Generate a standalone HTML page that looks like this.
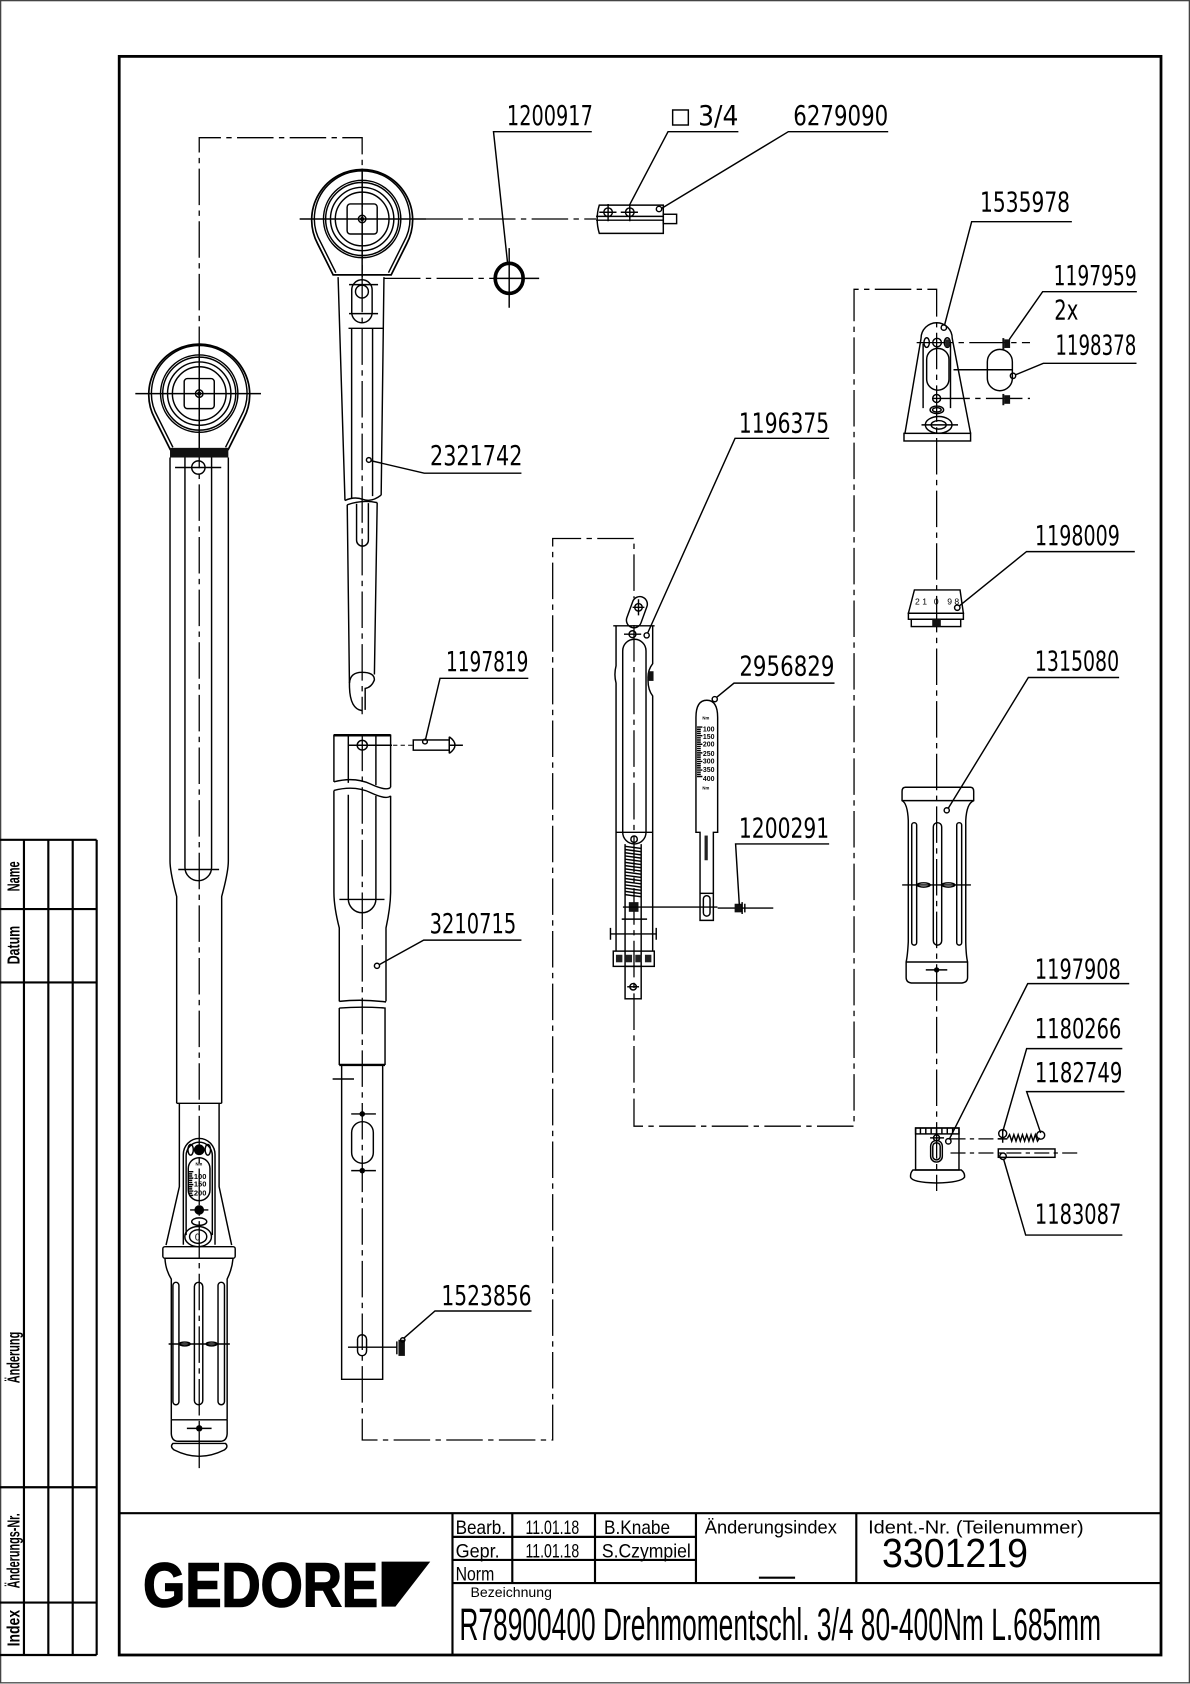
<!DOCTYPE html>
<html><head><meta charset="utf-8">
<style>
html,body{margin:0;padding:0;background:#fff}
svg{display:block}
.s{stroke:#000;fill:none;stroke-width:1.35}
.c{stroke:#000;fill:none;stroke-width:1.2;stroke-dasharray:34 5 5 5}
.cs{stroke:#000;fill:none;stroke-width:1.1;stroke-dasharray:14 4 4 4}
.l{font-family:"DejaVu Sans","Liberation Sans",sans-serif;font-size:25.5px;fill:#000}
.n{font-family:"Liberation Sans Narrow","Liberation Sans",sans-serif;fill:#000}
.k{fill:#000;stroke:none}
</style></head><body>
<svg width="1190" height="1684" viewBox="0 0 1108 1568" preserveAspectRatio="none" xmlns="http://www.w3.org/2000/svg">
<defs>
<g id="hd" class="s">
<path d="M-27,52 L-41.5,23 A47 47 0 1 1 41.5,23 L27,52 Z" stroke-width="1.6"/>
<path d="M-24.5,50 L-38.5,22 A44.5 44.5 0 1 1 38.5,22 L24.5,50"/>
<circle r="36"/><circle r="34"/><circle r="29.5"/><circle r="25"/>
<rect x="-14" y="-14" width="28" height="28" rx="3"/>
<circle r="3.5"/><circle r="1.3" fill="#000"/>
</g>
</defs>

<!-- outer border -->
<rect x="0.6" y="0.6" width="1106.8" height="1566.3" fill="none" stroke="#444" stroke-width="1.2"/>
<!-- frame -->
<rect x="111" y="52.5" width="970" height="1488.5" fill="none" stroke="#000" stroke-width="2.6"/>

<!-- title block -->
<path d="M111,1409H1081 M421.3,1409V1541 M421.3,1474H1081 M477,1409V1474 M554,1409V1474 M648,1409V1474 M797.3,1409V1474 M421.3,1431H648 M421.3,1452.5H648" stroke="#000" stroke-width="2" fill="none"/>
<path d="M706.6,1469H740.3" stroke="#000" stroke-width="2"/>
<text class="n" x="424.2" y="1428.5" font-size="18" textLength="47" lengthAdjust="spacingAndGlyphs">Bearb.</text>
<text class="n" x="489.3" y="1428.5" font-size="18" textLength="50" lengthAdjust="spacingAndGlyphs">11.01.18</text>
<text class="n" x="562.4" y="1428.5" font-size="18" textLength="61.5" lengthAdjust="spacingAndGlyphs">B.Knabe</text>
<text class="n" x="424.2" y="1450" font-size="18" textLength="41" lengthAdjust="spacingAndGlyphs">Gepr.</text>
<text class="n" x="489.3" y="1450" font-size="18" textLength="50" lengthAdjust="spacingAndGlyphs">11.01.18</text>
<text class="n" x="560.4" y="1450" font-size="18" textLength="82.8" lengthAdjust="spacingAndGlyphs">S.Czympiel</text>
<text class="n" x="424.2" y="1471.5" font-size="18" textLength="36" lengthAdjust="spacingAndGlyphs">Norm</text>
<text class="n" x="656.2" y="1427.8" font-size="17" textLength="123" lengthAdjust="spacingAndGlyphs">Änderungsindex</text>
<text class="n" x="808.3" y="1427.8" font-size="17" textLength="200.7" lengthAdjust="spacingAndGlyphs">Ident.-Nr.  (Teilenummer)</text>
<text class="n" x="821.2" y="1459" font-size="38" textLength="136" lengthAdjust="spacingAndGlyphs">3301219</text>
<text class="n" x="438.1" y="1487" font-size="13" textLength="75.8" lengthAdjust="spacingAndGlyphs">Bezeichnung</text>
<text class="n" x="427.7" y="1527" font-size="42" textLength="597.5" lengthAdjust="spacingAndGlyphs">R78900400 Drehmomentschl. 3/4 80-400Nm L.685mm</text>
<!-- GEDORE logo -->
<text class="n" x="133.3" y="1496" font-size="58" font-weight="bold" stroke="#000" stroke-width="1.5" textLength="218.7" lengthAdjust="spacingAndGlyphs">GEDORE</text>
<polygon points="355.3,1454 400.6,1454 368.2,1496 355.3,1496" fill="#000"/>

<!-- left revision table -->
<path d="M0,782H90 M0,846.4H90 M0,914.8H90 M0,1384.8H90 M0,1492.2H90 M0,1541H90 M22.3,782V1541 M45,782V1541 M67.7,782V1541 M90,782V1541" stroke="#000" stroke-width="2" fill="none"/>
<g class="n" font-size="16" font-weight="bold">
<text transform="translate(18,830) rotate(-90)" textLength="28" lengthAdjust="spacingAndGlyphs">Name</text>
<text transform="translate(18,898) rotate(-90)" textLength="36" lengthAdjust="spacingAndGlyphs">Datum</text>
<text transform="translate(18,1288) rotate(-90)" textLength="48" lengthAdjust="spacingAndGlyphs">Änderung</text>
<text transform="translate(18,1479) rotate(-90)" textLength="70" lengthAdjust="spacingAndGlyphs">Änderungs-Nr.</text>
<text transform="translate(18,1533) rotate(-90)" textLength="34" lengthAdjust="spacingAndGlyphs">Index</text>
</g>

<!-- ================= connectors ================= -->
<path class="c" d="M185.5,1367 V128.2 H337.2 V665"/>
<path class="c" d="M337.3,684 V1340.8 H514.6 V501.4 H590.3 V557"/>
<path class="c" d="M590.3,582 V1048.6 H795.2 V269.4 H872.1 V1109"/>
<path class="c" d="M397,203.9 H555"/>
<path class="c" d="M357.5,259.2 H459"/>
<path class="c" d="M853.5,319 H959"/>
<path class="c" d="M869,371 H959"/>
<path class="cs" d="M885,1060.4 H936"/>
<path class="cs" d="M885,1073.6 H1003.5"/>

<!-- ================= upper ratchet (2321742) ================= -->
<use href="#hd" transform="translate(337.2,203.9)"/>
<path class="s" d="M279,203.9H397 M337.2,157V258"/>
<path class="s" d="M314.8,258 L321.2,466 M357.5,258 L354.9,461"/>
<path class="s" d="M321.2,466 Q330,462 338,465 T354.9,461"/>
<path class="s" d="M327.4,306 V464 M346.9,306 V462"/>
<path class="s" d="M327.5,270 A9.5 9.5 0 0 1 346.5,270 V291 A9.5 9.5 0 0 1 327.5,291 Z"/>
<circle cx="337" cy="271.5" r="6" class="s"/>
<path class="s" d="M325,265H352 M325,292H352 M324.5,305.7H356.6"/>
<circle cx="343.4" cy="428.3" r="2.2" class="s"/>
<path class="s" d="M345.5,429 L395,440.6 H485.5"/>
<text class="l" x="400.4" y="433" textLength="86" lengthAdjust="spacingAndGlyphs">2321742</text>
<!-- lower rod -->
<path class="s" d="M323.3,470 Q337,465 351.2,468"/>
<path class="s" d="M323.3,470 L325.4,640 Q326,660 337,661.7 M351.2,468 L348.6,628"/>
<path class="s" d="M332,469 V503 A5.5 5.5 0 0 0 343,503 V468.5"/>
<path class="s" d="M325.4,636 Q326,626 337,626 Q348.6,626 348.6,633 Q346,640 340,641 V661"/>

<!-- O-ring 1200917 -->
<ellipse cx="474.1" cy="259.2" rx="13" ry="14" fill="none" stroke="#000" stroke-width="3.4"/>
<path class="s" d="M459,259.2H502 M474.1,231V286.5"/>
<path class="s" d="M472.5,244 L459.5,122.6 H551"/>
<text class="l" x="472" y="116.4" textLength="80" lengthAdjust="spacingAndGlyphs">1200917</text>

<!-- square drive 6279090 -->
<path class="s" d="M558,191 H617.6 V217.3 H558 Q554,204 558,191 Z" stroke-width="1.5"/>
<path class="s" d="M555,201.5H617.6 M555,205H617.6"/>
<rect x="617.6" y="199.5" width="12.4" height="8.7" class="s"/>
<circle cx="566.2" cy="197.6" r="4" class="s"/><path class="s" d="M558,197.6H574 M566.2,190V206"/>
<circle cx="586.4" cy="197.6" r="4" class="s"/><path class="s" d="M578,197.6H594 M586.4,190V206"/>
<circle cx="613.6" cy="194.6" r="2.5" class="s"/>
<path class="s" d="M586.6,190 L622,122.6 H687.5"/>
<rect x="626.3" y="102.4" width="14.6" height="14" class="s" stroke-width="1.6"/>
<text class="l" x="650" y="116.4" textLength="37.5" lengthAdjust="spacingAndGlyphs">3/4</text>
<path class="s" d="M616,194 L734,122.6 H827"/>
<text class="l" x="738.6" y="116.4" textLength="88.4" lengthAdjust="spacingAndGlyphs">6279090</text>

<!-- ================= left assembled wrench ================= -->
<use href="#hd" transform="translate(185.5,366.5)"/>
<path class="s" d="M126,366.5H243 M185.5,320V419"/>
<rect x="158.3" y="417" width="54.3" height="9" fill="#111"/>
<circle cx="184.7" cy="435.3" r="6.2" class="s"/>
<path class="s" d="M163,435.3H206"/>
<path class="s" d="M158.3,426 V801.7 Q158.3,812 164.5,834.8 V1027.3 M212.6,426 V801.7 Q212.6,812 206.4,834.8 V1027.3 M164.5,1027.3H206.4" stroke-width="1.45"/>
<path class="s" d="M172.2,426 V807.6 A12.4 12.4 0 0 0 197,807.6 V426"/>
<path class="s" d="M166,809.6H204"/>
<path class="s" d="M167,1027.3 V1104.9 L154.6,1159.3 M204,1027.3 V1104.9 L215.7,1159.3"/>
<path class="s" d="M170.7,1159 V1075 A14.75 15 0 0 1 200.2,1075 V1159"/>
<path class="s" d="M173.3,1150 V1076 A12.2 12.5 0 0 1 197.7,1076 V1150"/>
<circle cx="185.5" cy="1070.6" r="5" class="k"/>
<ellipse cx="177.5" cy="1070.6" rx="2.5" ry="5" class="s"/>
<ellipse cx="193.5" cy="1070.6" rx="2.5" ry="5" class="s"/>
<path class="s" d="M175.3,1088 A10.1 10 0 0 1 195.5,1088 V1108 A10.1 10 0 0 1 175.3,1108 Z"/>
<path class="s" stroke-width="0.8" d="M176,1091H180 M176,1093H179 M176,1095H179 M176,1097H180 M176,1099H179 M176,1101H179 M176,1103H180 M176,1105H179 M176,1107H179 M176,1109H180 M176,1111H179 M176,1113H180"/>
<g font-family="Liberation Sans,sans-serif" font-size="7" font-weight="bold" fill="#000">
<text x="180.5" y="1098">100</text><text x="180.5" y="1105">150</text><text x="180.5" y="1113">200</text>
<text x="182" y="1085" font-size="4">Nm</text>
</g>
<circle cx="185.5" cy="1126.6" r="4.5" class="k"/>
<path class="s" d="M177,1126.6H194"/>
<ellipse cx="185.5" cy="1137.5" rx="7" ry="3.5" class="s"/>
<ellipse cx="184.5" cy="1151.4" rx="12.4" ry="9.4" class="s"/>
<ellipse cx="184.5" cy="1151.4" rx="8" ry="6.3" class="s"/>
<text x="181.5" y="1155" font-family="Liberation Sans,sans-serif" font-size="9" fill="#000">0</text>
<rect x="151.6" y="1160.8" width="67.4" height="10.8" rx="2" class="s" stroke-width="1.45"/>
<path class="s" d="M153.6,1171.6 Q154,1182 159.5,1191 V1322 M217,1171.6 Q216,1182 211.5,1191 V1322"/>
<rect x="161" y="1194" width="5.6" height="114" rx="2.8" class="s"/>
<rect x="181" y="1194" width="7.8" height="114" rx="3.9" class="s"/>
<rect x="203" y="1194" width="6" height="114" rx="3" class="s"/>
<path class="s" d="M157,1251.4H214"/>
<ellipse cx="172" cy="1251.4" rx="5" ry="1.8" class="s"/>
<ellipse cx="197" cy="1251.4" rx="5" ry="1.8" class="s"/>
<path class="s" d="M159.5,1322 H211.5 M159.5,1322 V1335 Q160,1342 166,1342 H205 Q211,1342 211.5,1335 V1322"/>
<path class="s" d="M161,1344 H210 Q213,1347 209,1350 Q197,1356 185.5,1356 Q174,1356 162,1350 Q158,1347 161,1344 Z"/>
<circle cx="185.5" cy="1330" r="3" class="k"/>
<path class="s" d="M174,1330H197"/>

<!-- ================= 3210715 ================= -->
<path class="s" d="M310.9,728 V684.6 H363.7 V733" stroke-width="1.45"/>
<path d="M310.9,684.6 H363.7" stroke="#000" stroke-width="2.4"/>
<path class="s" d="M310.9,728 Q330,723 345,730 T363.7,733"/>
<path class="s" d="M324.3,684.6 V729 M350,684.6 V731"/>
<ellipse cx="337.3" cy="693.9" rx="4.7" ry="4.5" class="s"/>
<path class="s" d="M325,693.9H365"/>
<path class="s" d="M310.9,736 Q330,731 345,738 T363.7,741"/>
<path class="s" d="M310.9,736 V831 Q311,845 315.9,864 V932.4 M363.7,741 V831 Q363.5,845 359.4,864 V932.4 M315.9,932.4 Q337,930 359.4,933"/>
<path class="s" d="M324.3,740 V837 A12.85 12.85 0 0 0 350,837 V741"/>
<path class="s" d="M316,837.5H358"/>
<circle cx="351" cy="899.3" r="2.4" class="s"/>
<path class="s" d="M353,898.3 L394.5,875.4 H485.5"/>
<text class="l" x="400" y="868.7" textLength="80.7" lengthAdjust="spacingAndGlyphs">3210715</text>
<path class="s" d="M315.9,938.6 Q337,937 358.5,938.6 V991.6 M315.9,938.6 V991.6"/>
<path d="M315.9,991.6H358.5" stroke="#000" stroke-width="2.2"/>
<path class="s" d="M318.1,991.6 V1284.3 H356.3 V991.6"/>
<path class="s" d="M309.7,1004.7H329.6"/>
<path class="s" d="M327.4,1054.5 A10.1 10.1 0 0 1 347.6,1054.5 V1073.1 A10.1 10.1 0 0 1 327.4,1073.1 Z"/>
<circle cx="337.3" cy="1037.2" r="2.6" class="k"/><path class="s" d="M327,1037.2H350"/>
<circle cx="337.3" cy="1090" r="2.6" class="k"/><path class="s" d="M327,1090H350"/>
<rect x="332.9" y="1242.8" width="8.4" height="19.5" rx="4.2" class="s"/>
<path class="s" d="M324,1254.4H370"/>
<rect x="371" y="1247.5" width="6" height="15" fill="#111"/>
<path class="s" d="M369.5,1249V1261"/>
<circle cx="375" cy="1247.6" r="2" class="s"/>
<path class="s" d="M376,1246 L405,1220.7 H494.9"/>
<text class="l" x="411" y="1215" textLength="83.9" lengthAdjust="spacingAndGlyphs">1523856</text>

<!-- pin 1197819 -->
<rect x="384.8" y="689" width="33.5" height="9.5" class="s"/>
<path class="s" d="M418.3,686 V701.5 M418.3,686 Q429,693.8 418.3,701.5 M418.3,693.9H431"/>
<path d="M366,693.9H385" stroke="#000" stroke-width="1" stroke-dasharray="4 3"/>
<circle cx="395.7" cy="690.5" r="2.2" class="s"/>
<path class="s" d="M396.2,688.5 L409.7,631.6 H491.9"/>
<text class="l" x="415.3" y="625" textLength="76.7" lengthAdjust="spacingAndGlyphs">1197819</text>

<!-- ================= mechanism 1196375 ================= -->
<rect x="586" y="555" width="14" height="30" rx="7" transform="rotate(20 593 570)" class="s"/>
<circle cx="594.5" cy="565.5" r="3.5" class="s"/>
<path class="s" d="M589,565.5H600 M594.5,558V573"/>
<path class="s" d="M571,582.7 H609.5"/>
<path class="s" d="M573.6,582.7 V620 Q571.5,628 573.6,636 V885.6"/>
<path class="s" d="M607.7,582.7 V618 Q603,624 603.4,632 Q603,642 607.7,648 V885.6"/>
<rect x="603.5" y="625" width="5" height="9" fill="#111"/>
<circle cx="588.9" cy="590.5" r="3.2" class="s"/>
<path class="s" d="M581,590.5H597"/>
<circle cx="602.1" cy="591.6" r="2.4" class="s"/>
<path class="s" d="M603,589.5 L684.4,408.1 H772"/>
<text class="l" x="688" y="402.7" textLength="84" lengthAdjust="spacingAndGlyphs">1196375</text>
<rect x="579.8" y="595.2" width="21.7" height="190.6" rx="10.85" class="s"/>
<path class="s" d="M573.6,775H607.7"/>
<circle cx="590.4" cy="781.4" r="3" class="s"/>
<path class="s" d="M582,786V900 M597,786V900"/>
<path class="s" stroke-width="1" d="M582,788L597,790 M582,791L597,793 M582,794L597,796 M582,797L597,799 M582,800L597,802 M582,803L597,805 M582,806L597,808 M582,809L597,811 M582,812L597,814 M582,815L597,817 M582,818L597,820 M582,821L597,823 M582,824L597,826 M582,827L597,829 M582,830L597,832 M582,833L597,835"/>
<rect x="585.5" y="840" width="9" height="9" fill="#111"/>
<path class="s" d="M580,844.6H668"/>
<path class="s" d="M578.9,855.8H602.5 M568.4,869.6H611 M568.4,864V875 M611,864V875"/>
<rect x="571" y="885.6" width="38.2" height="14.2" class="s"/>
<rect x="573.5" y="889" width="6" height="7" fill="#222"/>
<rect x="582.5" y="889" width="6" height="7" fill="#222"/>
<rect x="591.5" y="889" width="6" height="7" fill="#222"/>
<rect x="600.5" y="889" width="6" height="7" fill="#222"/>
<rect x="582" y="899.8" width="15" height="30.2" class="s"/>
<circle cx="589.5" cy="918.8" r="3" class="s"/>
<path class="s" d="M584,918.8H595"/>

<!-- scale strip 2956829 -->
<path class="s" d="M648,668 Q648,652 658.1,652 Q668.2,652 668.2,668 V775 H664.2 V857 H651.8 V775 H648 Z" stroke-width="1.45"/>
<path class="s" d="M651.8,831.8H664.2"/>
<rect x="654.9" y="834" width="6.2" height="19" rx="3.1" class="s"/>
<path class="s" stroke-width="0.8" d="M649,677H654 M649,679H652.5 M649,681H652.5 M649,683H652.5 M649,685H654 M649,687H652.5 M649,689H652.5 M649,691H652.5 M649,693H654 M649,695H652.5 M649,697H652.5 M649,699H652.5 M649,701H654 M649,703H652.5 M649,705H652.5 M649,707H652.5 M649,709H654 M649,711H652.5 M649,713H652.5 M649,715H652.5 M649,717H654 M649,719H652.5 M649,721H652.5 M649,723H654"/>
<g font-family="Liberation Sans,sans-serif" font-size="6.5" font-weight="bold" fill="#000">
<text x="654.5" y="681">100</text><text x="654.5" y="688">150</text><text x="654.5" y="695">200</text><text x="654.5" y="704">250</text><text x="654.5" y="711">300</text><text x="654.5" y="719">350</text><text x="654.5" y="727">400</text>
<text x="654" y="670" font-size="4">Nm</text><text x="654" y="735" font-size="4">Nm</text>
</g>
<rect x="656" y="778" width="3" height="23" fill="#222"/>
<circle cx="665.5" cy="651" r="2.4" class="s"/>
<path class="s" d="M667,649.5 L683.4,636.1 H777"/>
<text class="l" x="688.4" y="629" textLength="88.6" lengthAdjust="spacingAndGlyphs">2956829</text>

<!-- screw 1200291 -->
<path class="s" d="M668.2,845.5H720"/>
<rect x="684" y="841.5" width="7" height="8" fill="#111"/>
<path class="s" d="M691,840V851 M693.5,841.5V849.5"/>
<path class="s" d="M688.4,842.8 L684.9,785.8 H772"/>
<text class="l" x="688" y="780" textLength="84" lengthAdjust="spacingAndGlyphs">1200291</text>

<!-- ================= right column ================= -->
<!-- bracket 1535978 -->
<path class="s" d="M857.6,315 A14.5 14.5 0 0 1 886.6,315 L903.7,403.5 M857.6,315 L842.6,403.5" stroke-width="1.45"/>
<rect x="841.7" y="403.5" width="62" height="7.1" class="s"/>
<path class="s" d="M859.5,320 V380 M885,320 V380"/>
<ellipse cx="862.8" cy="319" rx="2.5" ry="4.5" class="s"/>
<circle cx="872.5" cy="319" r="4" class="s"/>
<ellipse cx="882" cy="319" rx="2.8" ry="4.5" class="s"/>
<rect x="880" y="316" width="4" height="7" fill="#222"/>
<rect x="862.8" y="324.4" width="20.8" height="38.9" rx="10.4" class="s"/>
<circle cx="872.1" cy="371" r="3.7" class="s"/>
<ellipse cx="872.3" cy="381.6" rx="6.3" ry="3.5" class="s"/>
<ellipse cx="872.3" cy="381.6" rx="4" ry="2" class="s"/>
<ellipse cx="874" cy="395.6" rx="12.4" ry="7.8" class="s"/>
<ellipse cx="874" cy="395.6" rx="7" ry="4" class="s"/>
<path class="s" d="M858,395.6H892"/>
<circle cx="878.8" cy="305" r="2.5" class="s"/>
<path class="s" d="M879.5,302.6 L904.7,206.4 H998"/>
<text class="l" x="912.5" y="197.1" textLength="83.8" lengthAdjust="spacingAndGlyphs">1535978</text>
<!-- screws 1197959 -->
<rect x="935" y="316" width="5.5" height="8" fill="#111"/>
<rect x="933.3" y="314.8" width="1.8" height="10.5" fill="#111"/>
<rect x="935" y="368" width="5.5" height="8" fill="#111"/>
<rect x="933.3" y="366.8" width="1.8" height="10.5" fill="#111"/>
<path class="s" d="M939.7,316.1 L970.8,271.6 H1058.5"/>
<text class="l" x="981" y="265.4" textLength="77.5" lengthAdjust="spacingAndGlyphs">1197959</text>
<text class="l" x="981.6" y="297.3" textLength="22.4" lengthAdjust="spacingAndGlyphs">2x</text>
<!-- 1198378 -->
<rect x="919.3" y="325.3" width="23.3" height="38.5" rx="11.65" class="s" stroke-width="1.5"/>
<path class="s" d="M887.8,344.3H943"/>
<circle cx="943.2" cy="349.9" r="2.5" class="s"/>
<path class="s" d="M945.5,349 L971.4,338.3 H1058.2"/>
<text class="l" x="982.6" y="329.9" textLength="75.4" lengthAdjust="spacingAndGlyphs">1198378</text>
<!-- 1198009 dial -->
<path class="s" d="M851.4,549.3 H893.9 L897,571 H845.8 Z"/>
<rect x="845.8" y="571" width="51.2" height="5.6" class="s"/>
<rect x="848.5" y="576.6" width="46" height="6.8" class="s"/>
<rect x="868" y="576.6" width="8" height="6.8" fill="#111"/>
<g font-family="Liberation Sans,sans-serif" font-size="8" fill="#000">
<text x="852" y="563">2 1</text><text x="869.5" y="563">0</text><text x="882" y="563">9 8</text>
</g>
<circle cx="891.3" cy="565.8" r="2.5" class="s"/>
<path class="s" d="M893.5,564 L955.8,513.6 H1056.6"/>
<text class="l" x="963.7" y="507.4" textLength="79" lengthAdjust="spacingAndGlyphs">1198009</text>
<!-- 1315080 grip -->
<path class="s" stroke-width="1.45" d="M843,733 H903.6 Q906.6,733 906.6,737 V745.5 Q900,748 899.2,764 V877 Q899.5,890 900.9,895.7 V910 Q900.9,915.3 894,915.3 H850 Q843.7,915.3 843.7,910 V895.7 Q845,890 845.7,877 V764 Q845,748 839.9,745.5 V737 Q839.9,733 843,733 Z"/>
<path class="s" d="M839.9,745.5H906.6 M843.7,895.7H900.9"/>
<rect x="848.9" y="766" width="4.6" height="114" rx="2.3" class="s"/>
<rect x="869" y="766" width="7.8" height="114" rx="3.9" class="s"/>
<rect x="890.8" y="766" width="4.6" height="114" rx="2.3" class="s"/>
<path class="s" d="M840,824H904"/>
<ellipse cx="860" cy="824" rx="6" ry="2" class="s"/>
<ellipse cx="883" cy="824" rx="6" ry="2" class="s"/>
<circle cx="872.1" cy="903.1" r="2.5" class="k"/>
<path class="s" d="M862,903.1H882"/>
<circle cx="881.5" cy="754.5" r="2.4" class="s"/>
<path class="s" d="M883,752.5 L957.5,630.8 H1042"/>
<text class="l" x="963.6" y="624.4" textLength="78.4" lengthAdjust="spacingAndGlyphs">1315080</text>
<!-- 1197908 cylinder -->
<rect x="852.5" y="1050.3" width="40.4" height="39.1" class="s" stroke-width="1.45"/>
<rect x="852.5" y="1050.3" width="40.4" height="5.5" class="s"/>
<path class="s" stroke-width="0.8" d="M857,1050.3V1055.8 M862,1050.3V1055.8 M867,1050.3V1055.8 M872,1050.3V1055.8 M877,1050.3V1055.8 M882,1050.3V1055.8 M887,1050.3V1055.8"/>
<rect x="866.5" y="1061.9" width="10.9" height="20.1" rx="5.45" class="s"/>
<rect x="868.5" y="1064" width="6.9" height="16" rx="3.45" class="s"/>
<circle cx="872" cy="1059.5" r="2.8" class="s"/>
<path class="s" d="M866,1059.5H879"/>
<path class="s" d="M850,1089.4 H895 Q898.5,1092 898.1,1096 Q895,1101 872,1101.5 Q849,1101 847.8,1096 Q847.5,1092 850,1089.4 Z"/>
<circle cx="883" cy="1062.7" r="2.5" class="s"/>
<path class="s" d="M884,1060.5 L956.9,915.9 H1051.4"/>
<text class="l" x="963.6" y="911.3" textLength="80" lengthAdjust="spacingAndGlyphs">1197908</text>
<!-- ball + spring -->
<circle cx="933.6" cy="1055.5" r="3.7" class="s"/>
<path class="s" d="M929,1060.4H938 M933.6,1052V1064"/>
<path class="s" d="M938,1060 l2,-3.5 l2,6 l2,-6 l2,6 l2,-6 l2,6 l2,-6 l2,6 l2,-6 l2,6 l2,-6 l2,6 l2,-6 l2,6 l2,-3"/>
<circle cx="969" cy="1057" r="3.7" class="s"/>
<path class="s" d="M933.6,1053.8 L955.9,976.4 H1045"/>
<text class="l" x="963.6" y="966.5" textLength="80.5" lengthAdjust="spacingAndGlyphs">1180266</text>
<path class="s" d="M969,1055 L955.9,1016.4 H1047"/>
<text class="l" x="963.6" y="1007.4" textLength="81.5" lengthAdjust="spacingAndGlyphs">1182749</text>
<!-- pin 1183087 -->
<rect x="929.5" y="1069.8" width="52.8" height="7.8" class="s"/>
<circle cx="933.9" cy="1076.6" r="3" class="s"/>
<path class="s" d="M934.5,1079.5 L955,1150 H1045"/>
<text class="l" x="963.6" y="1139.3" textLength="80.5" lengthAdjust="spacingAndGlyphs">1183087</text>
</svg>
</body></html>
